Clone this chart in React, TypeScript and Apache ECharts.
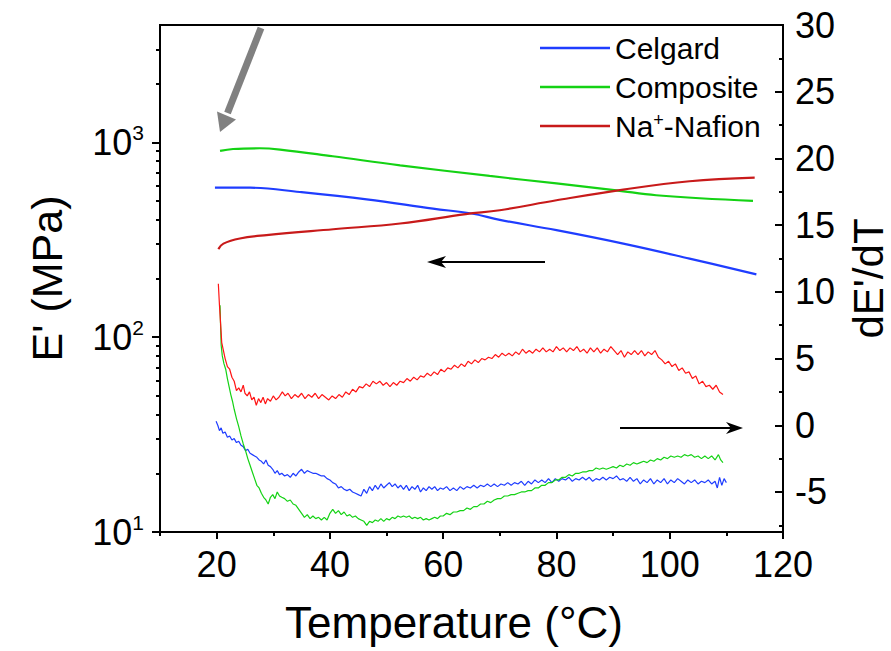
import React, { useEffect, useRef } from "react";
import * as echarts from "echarts";

// Storage modulus E' (MPa) against temperature (°C), plotted on the left log axis
const CELGARD_MODULUS: [number, number][] = [
  [19.7, 586], [25.9, 585], [34.7, 556], [46.5, 510], [58.2, 457], [65, 431],
  [70, 400], [80, 354], [91.8, 302], [103.5, 253], [115.3, 210],
];
const COMPOSITE_MODULUS: [number, number][] = [
  [20.6, 903], [22.9, 924], [27.6, 932], [31.2, 918], [40.5, 848], [52.4, 762],
  [68.2, 672], [80, 615], [90.6, 567], [97.6, 535], [114.7, 500],
];
const NAFION_MODULUS: [number, number][] = [
  [20.3, 283], [21.2, 302], [24.1, 321], [28.8, 334], [40.6, 358], [52.4, 383],
  [64, 428], [70, 448], [80, 504], [91.8, 572], [103.5, 631], [115, 659],
];

// Derivative dE'/dT against temperature, plotted on the right axis
const NAFION_RATE: [number, number][] = [
  [20.3, 10.6], [20.5, 9.0], [20.7, 7.6], [20.9, 6.2], [21.2, 5.6], [21.5, 5.0], [21.9, 4.4],
  [22.3, 4.2], [22.7, 3.6], [23.1, 3.3], [23.5, 2.6], [23.9, 2.8], [24.3, 2.5], [24.7, 3.0],
  [25.0, 2.4], [25.4, 2.2], [25.8, 2.5], [26.2, 1.9], [26.6, 2.1], [27.0, 1.5], [27.4, 2.0],
  [27.8, 1.7], [28.2, 2.1], [28.6, 1.6], [29.0, 2.0], [29.5, 1.8], [30.0, 2.2], [30.5, 1.9],
  [31.0, 2.1], [31.6, 2.5], [32.1, 2.2], [32.6, 2.4], [33.2, 2.0], [33.8, 2.3], [34.4, 2.1],
  [35.0, 2.4], [35.6, 2.0], [36.2, 2.3], [36.8, 2.1], [37.4, 2.4], [38.0, 2.0], [38.6, 2.3],
  [39.2, 2.1], [39.8, 1.9], [40.4, 2.2], [41.0, 2.0], [41.6, 2.3], [42.2, 2.1], [42.8, 2.5],
  [43.4, 2.3], [44.0, 2.7], [44.6, 2.5], [45.2, 2.9], [45.8, 2.8], [46.4, 3.1], [47.0, 2.9],
  [47.6, 3.3], [48.2, 3.1], [48.8, 3.3], [49.4, 3.0], [50.0, 3.2], [50.6, 2.9], [51.2, 3.2],
  [51.8, 3.0], [52.4, 3.3], [53.0, 3.2], [53.6, 3.5], [54.2, 3.3], [54.8, 3.6], [55.4, 3.4],
  [56.0, 3.7], [56.6, 3.6], [57.2, 3.9], [57.8, 3.7], [58.4, 4.0], [59.0, 3.8], [59.6, 4.2],
  [60.2, 4.0], [60.8, 4.3], [61.4, 4.2], [62.0, 4.5], [62.6, 4.3], [63.2, 4.6], [63.8, 4.4],
  [64.4, 4.8], [65.0, 4.6], [65.6, 4.9], [66.2, 4.7], [66.8, 5.0], [67.4, 4.9], [68.0, 5.1],
  [68.6, 5.0], [69.2, 5.3], [69.8, 5.1], [70.4, 5.4], [71.0, 5.2], [71.6, 5.4], [72.2, 5.2],
  [72.8, 5.5], [73.4, 5.3], [74.0, 5.7], [74.6, 5.4], [75.2, 5.6], [75.8, 5.4], [76.4, 5.7],
  [77.0, 5.5], [77.6, 5.8], [78.2, 5.5], [78.8, 5.7], [79.4, 5.5], [80.0, 5.9], [80.6, 5.6],
  [81.2, 5.8], [81.8, 5.5], [82.4, 5.8], [83.0, 5.6], [83.6, 5.9], [84.2, 5.5], [84.8, 5.7],
  [85.4, 5.4], [86.0, 5.8], [86.6, 5.5], [87.2, 5.8], [87.8, 5.4], [88.4, 5.7], [89.0, 5.5],
  [89.6, 5.9], [90.2, 5.6], [90.8, 5.3], [91.4, 5.6], [92.0, 5.1], [92.6, 5.5], [93.2, 5.3],
  [93.8, 5.6], [94.4, 5.3], [95.0, 5.6], [95.6, 5.2], [96.2, 5.5], [96.8, 5.3], [97.4, 5.6],
  [98.0, 5.1], [98.6, 4.9], [99.2, 4.6], [99.8, 4.8], [100.4, 4.4], [101.0, 4.6], [101.6, 4.1],
  [102.2, 4.3], [102.8, 3.9], [103.4, 4.0], [104.0, 3.5], [104.6, 3.7], [105.2, 3.1], [105.8, 3.3],
  [106.4, 2.9], [107.0, 3.0], [107.6, 2.7], [108.2, 3.0], [108.8, 2.5], [109.4, 2.3],
];
const COMPOSITE_RATE: [number, number][] = [
  [20.6, 9.0], [20.7, 7.4], [20.8, 6.0], [21.0, 5.2], [21.3, 4.6], [21.6, 4.2], [21.9, 3.5],
  [22.2, 2.9], [22.5, 2.3], [22.8, 1.8], [23.1, 1.2], [23.5, 0.5], [23.9, -0.1], [24.3, -0.8],
  [24.7, -1.4], [25.1, -1.9], [25.5, -2.5], [25.9, -3.0], [26.3, -3.5], [26.7, -4.0], [27.1, -4.5],
  [27.5, -4.7], [27.9, -5.1], [28.3, -5.4], [28.7, -5.6], [29.1, -5.9], [29.5, -5.4], [29.9, -5.2],
  [30.3, -5.5], [30.7, -5.0], [31.1, -5.3], [31.5, -5.4], [32.0, -5.5], [32.5, -5.7], [33.0, -5.6],
  [33.5, -5.9], [34.0, -6.0], [34.5, -6.3], [35.0, -6.6], [35.5, -6.9], [36.0, -6.7], [36.5, -7.0],
  [37.0, -6.8], [37.5, -7.0], [38.0, -6.9], [38.5, -7.1], [39.0, -6.9], [39.5, -7.1], [40.0, -6.6],
  [40.5, -6.3], [41.0, -6.6], [41.5, -6.4], [42.0, -6.7], [42.5, -6.5], [43.0, -6.8], [43.5, -6.7],
  [44.0, -6.9], [44.5, -6.8], [45.0, -7.0], [45.5, -7.1], [46.0, -7.2], [46.5, -7.5], [47.0, -7.2],
  [47.5, -7.3], [48.0, -7.1], [48.5, -7.2], [49.0, -7.0], [49.5, -7.2], [50.0, -7.0], [50.5, -7.1],
  [51.0, -6.9], [51.5, -7.0], [52.0, -6.8], [52.5, -6.9], [53.0, -6.8], [53.5, -6.9], [54.0, -6.8],
  [54.5, -7.0], [55.0, -6.9], [55.5, -7.0], [56.0, -6.9], [56.5, -7.1], [57.0, -7.0], [57.5, -7.1],
  [58.0, -7.0], [58.5, -6.9], [59.0, -7.0], [59.5, -6.8], [60.0, -6.8], [60.6, -6.6], [61.2, -6.7],
  [61.8, -6.5], [62.4, -6.5], [63.0, -6.4], [63.6, -6.4], [64.2, -6.2], [64.8, -6.3], [65.4, -6.1],
  [66.0, -6.1], [66.6, -5.9], [67.2, -5.9], [67.8, -5.7], [68.4, -5.8], [69.0, -5.6], [69.6, -5.5],
  [70.2, -5.5], [70.8, -5.3], [71.4, -5.3], [72.0, -5.2], [72.6, -5.2], [73.2, -5.1], [73.8, -5.0],
  [74.4, -5.0], [75.0, -4.9], [75.6, -4.9], [76.2, -4.7], [76.8, -4.7], [77.4, -4.5], [78.0, -4.5],
  [78.6, -4.3], [79.2, -4.3], [79.8, -4.1], [80.4, -4.1], [81.0, -3.9], [81.6, -3.9], [82.2, -3.7],
  [82.8, -3.8], [83.4, -3.6], [84.0, -3.6], [84.6, -3.5], [85.2, -3.5], [85.8, -3.4], [86.4, -3.4],
  [87.0, -3.2], [87.6, -3.3], [88.2, -3.2], [88.8, -3.3], [89.4, -3.2], [90.0, -3.1], [90.6, -3.2],
  [91.2, -3.0], [91.8, -3.1], [92.4, -2.9], [93.0, -3.0], [93.6, -2.8], [94.2, -2.9], [94.8, -2.8],
  [95.4, -2.7], [96.0, -2.8], [96.6, -2.6], [97.2, -2.7], [97.8, -2.5], [98.4, -2.6], [99.0, -2.4],
  [99.6, -2.5], [100.2, -2.3], [100.8, -2.4], [101.4, -2.3], [102.0, -2.4], [102.6, -2.2],
  [103.2, -2.3], [103.8, -2.2], [104.4, -2.4], [105.0, -2.3], [105.6, -2.5], [106.2, -2.3],
  [106.8, -2.5], [107.4, -2.3], [108.0, -2.6], [108.6, -2.2], [109.0, -2.6], [109.4, -2.8],
];
const CELGARD_RATE: [number, number][] = [
  [19.9, 0.3], [20.2, 0.0], [20.5, -0.4], [20.8, -0.2], [21.1, -0.6], [21.5, -0.5], [21.9, -0.9],
  [22.3, -0.8], [22.7, -1.1], [23.1, -1.0], [23.5, -1.3], [23.9, -1.2], [24.3, -1.5], [24.7, -1.6],
  [25.1, -1.9], [25.5, -1.8], [25.9, -2.1], [26.3, -2.2], [26.7, -2.3], [27.1, -2.4], [27.5, -2.6],
  [27.9, -2.7], [28.3, -2.9], [28.7, -2.6], [29.1, -3.0], [29.5, -3.1], [29.9, -3.3], [30.3, -3.6],
  [30.7, -3.4], [31.1, -3.7], [31.5, -3.6], [32.0, -3.8], [32.5, -3.7], [33.0, -3.9], [33.5, -3.6],
  [34.0, -3.8], [34.5, -3.5], [35.0, -3.3], [35.5, -3.6], [36.0, -3.4], [36.5, -3.5], [37.0, -3.6],
  [37.5, -3.6], [38.0, -3.7], [38.5, -3.8], [39.0, -3.8], [39.5, -4.0], [40.0, -4.1], [40.5, -4.3],
  [41.0, -4.4], [41.5, -4.7], [42.0, -4.6], [42.5, -4.8], [43.0, -4.9], [43.5, -4.8], [44.0, -5.0],
  [44.5, -5.1], [45.0, -5.2], [45.5, -5.3], [46.0, -4.8], [46.5, -5.1], [47.0, -4.6], [47.5, -4.9],
  [48.0, -4.5], [48.5, -4.8], [49.0, -4.4], [49.5, -4.7], [50.0, -4.5], [50.5, -4.3], [51.0, -4.6],
  [51.5, -4.4], [52.0, -4.7], [52.5, -4.5], [53.0, -4.8], [53.5, -4.5], [54.0, -4.9], [54.5, -4.6],
  [55.0, -4.8], [55.5, -4.5], [56.0, -5.0], [56.5, -4.7], [57.0, -4.9], [57.5, -4.6], [58.0, -4.8],
  [58.5, -4.6], [59.0, -4.9], [59.5, -4.7], [60.0, -4.8], [60.6, -4.6], [61.2, -4.9], [61.8, -4.7],
  [62.4, -4.9], [63.0, -4.6], [63.6, -4.8], [64.2, -4.6], [64.8, -4.7], [65.4, -4.5], [66.0, -4.7],
  [66.6, -4.5], [67.2, -4.6], [67.8, -4.4], [68.4, -4.6], [69.0, -4.4], [69.6, -4.6], [70.2, -4.4],
  [70.8, -4.5], [71.4, -4.3], [72.0, -4.5], [72.6, -4.3], [73.2, -4.4], [73.8, -4.2], [74.4, -4.5],
  [75.0, -4.2], [75.6, -4.4], [76.2, -4.1], [76.8, -4.3], [77.4, -4.1], [78.0, -4.3], [78.6, -4.0],
  [79.2, -4.3], [79.8, -4.0], [80.4, -4.2], [81.0, -4.0], [81.6, -4.1], [82.2, -3.9], [82.8, -4.2],
  [83.4, -4.0], [84.0, -4.1], [84.6, -3.9], [85.2, -4.1], [85.8, -3.9], [86.4, -4.2], [87.0, -4.0],
  [87.6, -4.1], [88.2, -3.9], [88.8, -4.1], [89.4, -3.9], [90.0, -4.0], [90.6, -3.8], [91.2, -4.1],
  [91.8, -4.0], [92.4, -4.2], [93.0, -3.9], [93.6, -4.2], [94.2, -4.0], [94.8, -4.4], [95.4, -4.1],
  [96.0, -4.3], [96.6, -4.0], [97.2, -4.4], [97.8, -4.1], [98.4, -4.3], [99.0, -4.0], [99.6, -4.4],
  [100.2, -4.1], [100.8, -4.3], [101.4, -4.0], [102.0, -4.2], [102.6, -4.4], [103.2, -4.1],
  [103.8, -4.3], [104.4, -4.1], [105.0, -4.4], [105.6, -4.2], [106.2, -4.3], [106.8, -4.1],
  [107.4, -4.4], [108.0, -4.2], [108.4, -4.7], [108.8, -3.9], [109.2, -4.5], [109.6, -4.0],
  [110.0, -4.3],
];

const LEGEND_NAMES = ["Celgard", "Composite", "Na+-Nafion"];

// Tick positions
const X_MAJOR = [20, 40, 60, 80, 100, 120];
const X_MINOR = [10, 30, 50, 70, 90, 110];
const LEFT_MAJOR = [10, 100, 1000];
const LEFT_MINOR = [20, 30, 40, 50, 60, 70, 80, 90, 200, 300, 400, 500, 600, 700, 800, 900, 2000, 3000];
const RIGHT_MAJOR = [-5, 0, 5, 10, 15, 20, 25, 30];
const RIGHT_MINOR = [-7.5, -2.5, 2.5, 7.5, 12.5, 17.5, 22.5, 27.5];

const FONT = "'Liberation Sans', Arial, Helvetica, sans-serif";
const BLUE = "#1f3dff";
const GREEN = "#14d214";
const DARK_RED = "#c81a1a";
const RED = "#ff1414";
const AXIS = { color: "#000", width: 2 };

export default function App() {
  const ref = useRef<HTMLDivElement>(null);

  useEffect(() => {
    if (!ref.current) return;
    const chart = echarts.init(ref.current, undefined, { renderer: "svg" });

    // axes that only carry the short minor ticks
    const minorAxis = (extra: object) => ({
      show: true,
      axisLine: { show: true, onZero: false, lineStyle: { color: "rgba(0,0,0,0)", width: 0 } },
      axisLabel: { show: false },
      splitLine: { show: false },
      ...extra,
    });

    const option: any = {
      animation: false,
      textStyle: { fontFamily: FONT, color: "#000" },
      grid: {
        left: 160,
        right: 108,
        top: 25,
        bottom: 119,
        show: true,
        borderColor: "#000",
        borderWidth: 2,
        backgroundColor: "transparent",
        containLabel: false,
        outerBoundsMode: "none",
      },
      legend: {
        orient: "vertical",
        left: 535,
        top: 28,
        itemWidth: 70,
        itemHeight: 2.5,
        itemGap: 9,
        icon: "rect",
        data: LEGEND_NAMES,
        selectedMode: false,
        formatter: (name: string) =>
          name === "Na+-Nafion" ? "{n|Na}{p|+}{n|-Nafion}" : "{n|" + name + "}",
        textStyle: {
          fontFamily: FONT,
          fontSize: 30,
          color: "#000",
          rich: {
            n: { fontFamily: FONT, fontSize: 30, lineHeight: 30, color: "#000" },
            p: { fontFamily: FONT, fontSize: 18, lineHeight: 12, verticalAlign: "top", color: "#000" },
          },
        },
      },
      xAxis: [
        {
          type: "value",
          min: 10,
          max: 120,
          position: "bottom",
          name: "Temperature (°C)",
          nameLocation: "middle",
          nameGap: 68,
          nameTextStyle: { fontFamily: FONT, fontSize: 44, color: "#000", padding: [0, 35, 0, 0] },
          axisLine: { show: true, onZero: false, lineStyle: AXIS },
          axisTick: { show: true, length: 7, customValues: X_MAJOR, lineStyle: AXIS },
          axisLabel: { customValues: X_MAJOR, fontFamily: FONT, fontSize: 36, color: "#000", margin: 14 },
          splitLine: { show: false },
        },
        minorAxis({
          type: "value",
          min: 10,
          max: 120,
          position: "bottom",
          axisTick: { show: true, inside: false, length: 4, customValues: X_MINOR, lineStyle: AXIS },
        }),
      ],
      yAxis: [
        {
          type: "log",
          logBase: 10,
          min: 10,
          max: 4000,
          position: "left",
          name: "E' (MPa)",
          nameLocation: "middle",
          nameRotate: 90,
          nameGap: 92,
          nameTextStyle: { fontFamily: FONT, fontSize: 43, color: "#000" },
          axisLine: { show: true, onZero: false, lineStyle: AXIS },
          axisTick: { show: true, length: 8, customValues: LEFT_MAJOR, lineStyle: AXIS },
          axisLabel: {
            customValues: LEFT_MAJOR,
            margin: 16,
            formatter: (v: number) => "{b|10}{s|" + Math.round(Math.log10(v)) + "}",
            rich: {
              b: { fontFamily: FONT, fontSize: 36, lineHeight: 40, color: "#000" },
              s: { fontFamily: FONT, fontSize: 21, lineHeight: 16, verticalAlign: "top", color: "#000" },
            },
          },
          splitLine: { show: false },
        },
        {
          type: "value",
          min: -8,
          max: 30,
          position: "right",
          name: "dE'/dT",
          nameLocation: "middle",
          nameRotate: 90,
          nameGap: 64,
          nameTextStyle: { fontFamily: FONT, fontSize: 42, color: "#000" },
          axisLine: { show: true, onZero: false, lineStyle: AXIS },
          axisTick: { show: true, inside: true, length: 8, customValues: RIGHT_MAJOR, lineStyle: AXIS },
          axisLabel: { customValues: RIGHT_MAJOR, fontFamily: FONT, fontSize: 36, color: "#000", margin: 12 },
          splitLine: { show: false },
        },
        minorAxis({
          type: "log",
          logBase: 10,
          min: 10,
          max: 4000,
          position: "left",
          axisTick: { show: true, length: 4, customValues: LEFT_MINOR, lineStyle: AXIS },
        }),
        minorAxis({
          type: "value",
          min: -8,
          max: 30,
          position: "right",
          axisTick: { show: true, inside: true, length: 4, customValues: RIGHT_MINOR, lineStyle: AXIS },
        }),
      ],
      series: [
        { name: "Celgard", data: CELGARD_MODULUS, yAxisIndex: 0, smooth: 0.4, color: BLUE, width: 2.2 },
        { name: "Composite", data: COMPOSITE_MODULUS, yAxisIndex: 0, smooth: 0.4, color: GREEN, width: 2.2 },
        { name: "Na+-Nafion", data: NAFION_MODULUS, yAxisIndex: 0, smooth: 0.4, color: DARK_RED, width: 2.2 },
        { name: "Celgard", data: CELGARD_RATE, yAxisIndex: 1, smooth: false, color: BLUE, width: 1.2 },
        { name: "Composite", data: COMPOSITE_RATE, yAxisIndex: 1, smooth: false, color: GREEN, width: 1.2 },
        { name: "Na+-Nafion", data: NAFION_RATE, yAxisIndex: 1, smooth: false, color: RED, width: 1.2 },
      ].map((s) => ({
        type: "line",
        name: s.name,
        data: s.data,
        xAxisIndex: 0,
        yAxisIndex: s.yAxisIndex,
        smooth: s.smooth,
        symbol: "none",
        showSymbol: false,
        lineStyle: { color: s.color, width: s.width },
        itemStyle: { color: s.color },
        emphasis: { disabled: true },
      })),
      graphic: [
        // grey pointer toward the start of the modulus curves
        {
          type: "line",
          shape: { x1: 261, y1: 28, x2: 227.5, y2: 113 },
          style: { stroke: "#808080", lineWidth: 7 },
        },
        {
          type: "polygon",
          shape: { points: [[220, 132], [236, 119.5], [217, 111.5]] },
          style: { fill: "#808080" },
        },
        // left-pointing arrow: modulus curves belong to the left axis
        {
          type: "line",
          shape: { x1: 545, y1: 262, x2: 440, y2: 262 },
          style: { stroke: "#000", lineWidth: 2 },
        },
        {
          type: "polygon",
          shape: { points: [[427, 262], [446, 256], [441, 262], [446, 268]] },
          style: { fill: "#000" },
        },
        // right-pointing arrow: derivative curves belong to the right axis
        {
          type: "line",
          shape: { x1: 620, y1: 428, x2: 731, y2: 428 },
          style: { stroke: "#000", lineWidth: 2 },
        },
        {
          type: "polygon",
          shape: { points: [[743, 428], [726, 422], [731, 428], [726, 434]] },
          style: { fill: "#000" },
        },
      ],
    };

    chart.setOption(option);
    return () => chart.dispose();
  }, []);

  return (
    <div
      ref={ref}
      style={{ position: "absolute", left: 0, top: 0, width: 891, height: 651, background: "#fff" }}
    />
  );
}
